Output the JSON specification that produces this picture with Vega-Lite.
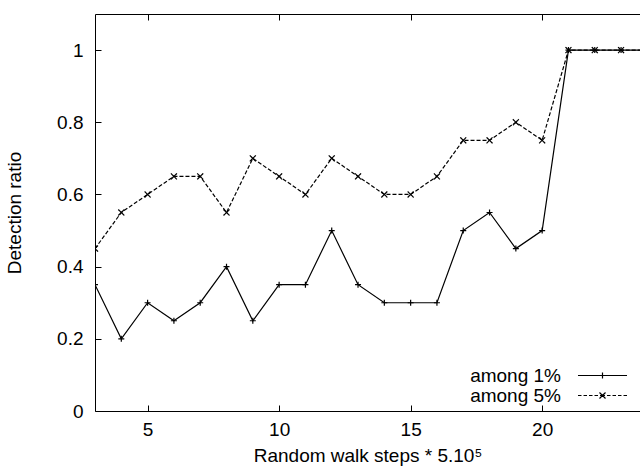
{
  "$schema": "https://vega.github.io/schema/vega-lite/v6.json",
  "autosize": "none",
  "width": 545,
  "height": 397,
  "padding": {"left": 95, "top": 14, "right": 0, "bottom": 57},
  "background": "white",
  "config": {
    "view": {"stroke": null},
    "font": "Liberation Sans",
    "axis": {
      "domainColor": "black", "domainWidth": 1,
      "tickColor": "black", "tickWidth": 1, "tickSize": -6,
      "labelFont": "Liberation Sans", "labelFontSize": 19, "labelColor": "black",
      "titleFont": "Liberation Sans", "titleFontSize": 19, "titleFontWeight": "normal", "titleColor": "black",
      "grid": false
    }
  },
  "data": {
    "values": [
      {"x": 3, "y": 0.35, "s": "among 1%"}, {"x": 4, "y": 0.2, "s": "among 1%"}, {"x": 5, "y": 0.3, "s": "among 1%"},
      {"x": 6, "y": 0.25, "s": "among 1%"}, {"x": 7, "y": 0.3, "s": "among 1%"}, {"x": 8, "y": 0.4, "s": "among 1%"},
      {"x": 9, "y": 0.25, "s": "among 1%"}, {"x": 10, "y": 0.35, "s": "among 1%"}, {"x": 11, "y": 0.35, "s": "among 1%"},
      {"x": 12, "y": 0.5, "s": "among 1%"}, {"x": 13, "y": 0.35, "s": "among 1%"}, {"x": 14, "y": 0.3, "s": "among 1%"},
      {"x": 15, "y": 0.3, "s": "among 1%"}, {"x": 16, "y": 0.3, "s": "among 1%"}, {"x": 17, "y": 0.5, "s": "among 1%"},
      {"x": 18, "y": 0.55, "s": "among 1%"}, {"x": 19, "y": 0.45, "s": "among 1%"}, {"x": 20, "y": 0.5, "s": "among 1%"},
      {"x": 21, "y": 1, "s": "among 1%"}, {"x": 22, "y": 1, "s": "among 1%"}, {"x": 23, "y": 1, "s": "among 1%"},
      {"x": 24, "y": 1, "s": "among 1%"},
      {"x": 3, "y": 0.45, "s": "among 5%"}, {"x": 4, "y": 0.55, "s": "among 5%"}, {"x": 5, "y": 0.6, "s": "among 5%"},
      {"x": 6, "y": 0.65, "s": "among 5%"}, {"x": 7, "y": 0.65, "s": "among 5%"}, {"x": 8, "y": 0.55, "s": "among 5%"},
      {"x": 9, "y": 0.7, "s": "among 5%"}, {"x": 10, "y": 0.65, "s": "among 5%"}, {"x": 11, "y": 0.6, "s": "among 5%"},
      {"x": 12, "y": 0.7, "s": "among 5%"}, {"x": 13, "y": 0.65, "s": "among 5%"}, {"x": 14, "y": 0.6, "s": "among 5%"},
      {"x": 15, "y": 0.6, "s": "among 5%"}, {"x": 16, "y": 0.65, "s": "among 5%"}, {"x": 17, "y": 0.75, "s": "among 5%"},
      {"x": 18, "y": 0.75, "s": "among 5%"}, {"x": 19, "y": 0.8, "s": "among 5%"}, {"x": 20, "y": 0.75, "s": "among 5%"},
      {"x": 21, "y": 1, "s": "among 5%"}, {"x": 22, "y": 1, "s": "among 5%"}, {"x": 23, "y": 1, "s": "among 5%"},
      {"x": 24, "y": 1, "s": "among 5%"}
    ]
  },
  "layer": [
    {
      "transform": [{"filter": "datum.s === 'among 1%'"}],
      "mark": {
        "type": "line", "color": "black", "strokeWidth": 1.2, "clip": true,
        "point": {"shape": "M0,-1V1M-1,0H1", "filled": false, "stroke": "black", "strokeWidth": 1.2, "size": 36}
      },
      "encoding": {
        "x": {
          "field": "x", "type": "quantitative",
          "scale": {"domain": [3, 23.72], "nice": false, "zero": false},
          "axis": {"orient": "bottom", "values": [5, 10, 15, 20], "labelPadding": 15, "title": "Random walk steps * 5.10⁵", "titlePadding": 7}
        },
        "y": {
          "field": "y", "type": "quantitative",
          "scale": {"domain": [0, 1.1], "nice": false},
          "axis": {"orient": "left", "values": [0, 0.2, 0.4, 0.6, 0.8, 1], "format": "~g", "labelPadding": 18, "title": "Detection ratio", "titlePadding": 32}
        }
      }
    },
    {
      "transform": [{"filter": "datum.s === 'among 5%'"}],
      "mark": {
        "type": "line", "color": "black", "strokeWidth": 1.2, "strokeDash": [4, 2], "clip": true,
        "point": {"shape": "M-1,-1L1,1M-1,1L1,-1", "filled": false, "stroke": "black", "strokeWidth": 1.2, "strokeDash": [1, 0], "size": 36}
      },
      "encoding": {
        "x": {
          "field": "x", "type": "quantitative",
          "axis": {"orient": "top", "values": [5, 10, 15, 20], "labels": false, "title": null}
        },
        "y": {"field": "y", "type": "quantitative", "axis": null}
      }
    },
    {
      "transform": [{"filter": "datum.x > 1000"}],
      "mark": {"type": "point", "filled": false, "stroke": "black"},
      "encoding": {
        "shape": {
          "field": "s", "type": "nominal",
          "scale": {
            "domain": ["among 1%", "among 5%"],
            "range": [
              "M-8.17,0H8.17M0,-1V1",
              "M-8.17,0H-7M-6.33,0H-5.17M-4.5,0H-3.33M-2.67,0H-1.5M-0.83,0H0.83M1.5,0H2.67M3.33,0H4.5M5.17,0H6.33M7,0H8.17M-1,-1L1,1M-1,1L1,-1"
            ]
          },
          "legend": {
            "orient": "none", "legendX": 498, "legendY": 352, "title": null,
            "padding": 0, "labelAlign": "right", "labelOffset": -51,
            "labelFont": "Liberation Sans", "labelFontSize": 19, "labelColor": "black",
            "symbolSize": 36, "symbolStrokeColor": "black", "symbolStrokeWidth": 1.2,
            "symbolFillColor": "transparent", "symbolOpacity": 1, "rowPadding": 0
          }
        }
      }
    }
  ],
  "resolve": {"axis": {"x": "independent", "y": "independent"}}
}
